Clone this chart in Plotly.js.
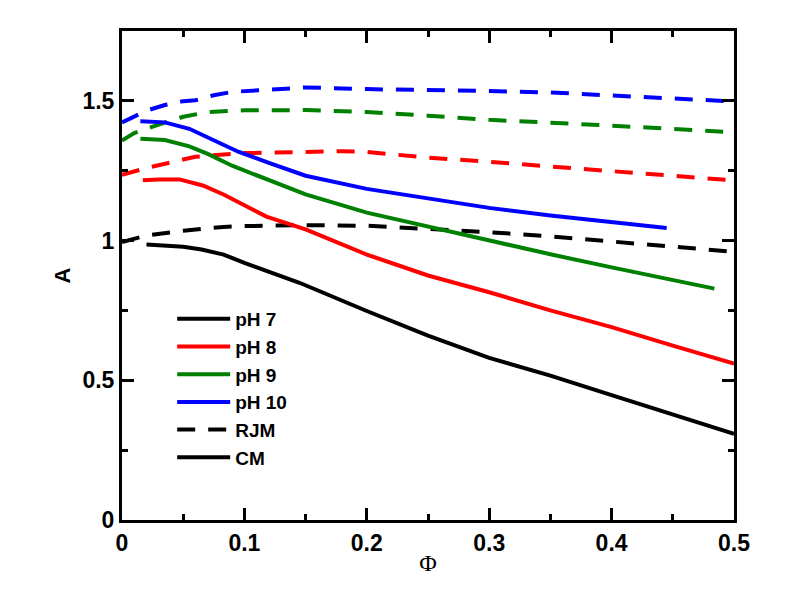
<!DOCTYPE html>
<html>
<head>
<meta charset="utf-8">
<script src="https://cdn.plot.ly/plotly-3.0.1.min.js"></script>
<style>html,body{margin:0;padding:0;background:#fff;}#chart{width:792px;height:612px;}</style>
</head>
<body>
<div id="chart"></div>
<script>
// CM (solid) curves
var phiCM7 = [0.02,0.05,0.065,0.083,0.1,0.145,0.2,0.25,0.3,0.35,0.4,0.45,0.5];
var aCM7   = [0.986,0.978,0.968,0.95,0.92,0.849,0.748,0.66,0.58,0.517,0.447,0.377,0.308];
var phiCM8 = [0.017,0.03,0.047,0.066,0.083,0.1,0.118,0.15,0.186,0.2,0.25,0.3,0.35,0.4,0.45,0.5];
var aCM8   = [1.216,1.219,1.219,1.197,1.165,1.125,1.086,1.04,0.973,0.95,0.875,0.815,0.75,0.69,0.624,0.56];
var phiCM9 = [0.015,0.035,0.055,0.07,0.09,0.12,0.15,0.2,0.25,0.3,0.35,0.4,0.45,0.484];
var aCM9   = [1.364,1.36,1.337,1.31,1.268,1.215,1.165,1.1,1.05,1.0,0.951,0.904,0.859,0.828];
var phiCM10 = [0.015,0.035,0.055,0.075,0.095,0.12,0.15,0.2,0.25,0.3,0.35,0.4,0.445];
var aCM10   = [1.427,1.423,1.40,1.36,1.318,1.278,1.232,1.185,1.152,1.117,1.09,1.066,1.045];

// RJM (dashed) curves
var phiRJM7 = [0,0.02,0.05,0.08,0.1,0.15,0.2,0.25,0.3,0.35,0.4,0.45,0.5];
var aRJM7   = [0.995,1.018,1.035,1.048,1.052,1.055,1.053,1.042,1.03,1.015,0.997,0.978,0.96];
var phiRJM8 = [0,0.02,0.04,0.06,0.08,0.1,0.15,0.18,0.2,0.25,0.3,0.35,0.4,0.45,0.5];
var aRJM8   = [1.235,1.26,1.28,1.30,1.307,1.313,1.317,1.32,1.317,1.297,1.282,1.265,1.248,1.232,1.215];
var phiRJM9 = [0,0.01,0.03,0.05,0.07,0.1,0.15,0.2,0.25,0.3,0.35,0.4,0.45,0.5];
var aRJM9   = [1.358,1.385,1.415,1.443,1.46,1.466,1.467,1.46,1.447,1.432,1.422,1.412,1.40,1.387];
var phiRJM10 = [0,0.01,0.02,0.035,0.05,0.06,0.075,0.09,0.11,0.13,0.15,0.2,0.25,0.3,0.35,0.4,0.45,0.5];
var aRJM10   = [1.423,1.443,1.465,1.485,1.499,1.502,1.52,1.532,1.538,1.545,1.548,1.542,1.54,1.535,1.53,1.52,1.51,1.498];

var phLabels = ["pH 7","pH 8","pH 9","pH 10"];
var colors = ["#000000","#ff0000","#008000","#0000ff"];
var modelLabels = ["RJM","CM"];

var cmX = [phiCM7, phiCM8, phiCM9, phiCM10];
var cmY = [aCM7, aCM8, aCM9, aCM10];
var rjX = [phiRJM7, phiRJM8, phiRJM9, phiRJM10];
var rjY = [aRJM7, aRJM8, aRJM9, aRJM10];

var LW = 4;
var DASH = "18px,13px";
var traces = [];
for (var i = 0; i < 4; i++) {
  traces.push({x: rjX[i], y: rjY[i], type: "scatter", mode: "lines", showlegend: false,
    line: {color: colors[i], width: LW, dash: DASH}, hoverinfo: "skip"});
}
for (var i = 0; i < 4; i++) {
  traces.push({x: cmX[i], y: cmY[i], type: "scatter", mode: "lines", name: phLabels[i],
    legendrank: i + 1, line: {color: colors[i], width: LW}});
}
traces.push({x: [null], y: [null], type: "scatter", mode: "lines", name: modelLabels[0],
  legendrank: 5, line: {color: "#000", width: LW, dash: DASH}});
traces.push({x: [null], y: [null], type: "scatter", mode: "lines", name: modelLabels[1],
  legendrank: 6, line: {color: "#000", width: LW}});

var tickFont = {family: "Liberation Sans, Arial, sans-serif", size: 23, weight: "bold", color: "#000"};

var layout = {
  width: 792, height: 612,
  paper_bgcolor: "#fff", plot_bgcolor: "#fff",
  margin: {l: 122, r: 58, t: 31, b: 92, pad: 0},
  showlegend: true,
  legend: {
    x: 0.082, y: 0.45, xanchor: "left", yanchor: "top",
    bgcolor: "rgba(0,0,0,0)", borderwidth: 0,
    itemwidth: 53, tracegroupgap: 0,
    font: {family: "Liberation Sans, Arial, sans-serif", size: 19, weight: "bold", color: "#000"}
  },
  xaxis: {
    range: [0, 0.5], dtick: 0.1, tick0: 0,
    showgrid: false, zeroline: false,
    showline: true, linewidth: 3, linecolor: "#000", mirror: "allticks",
    ticks: "inside", ticklen: 12, tickwidth: 3, tickcolor: "#000",
    minor: {dtick: 0.05, ticks: "inside", ticklen: 6, tickwidth: 3, tickcolor: "#000", showgrid: false},
    tickfont: tickFont,
    title: {text: "Φ", font: {family: "Liberation Serif, Times New Roman, serif", size: 24, color: "#000"}, standoff: 0}
  },
  yaxis: {
    range: [0, 1.75], dtick: 0.5, tick0: 0,
    showgrid: false, zeroline: false,
    showline: true, linewidth: 3, linecolor: "#000", mirror: "allticks",
    ticks: "inside", ticklen: 12, tickwidth: 3, tickcolor: "#000",
    minor: {dtick: 0.25, ticks: "inside", ticklen: 6, tickwidth: 3, tickcolor: "#000", showgrid: false},
    tickfont: tickFont,
    title: {text: "A", font: {family: "Liberation Sans, Arial, sans-serif", size: 22, weight: "bold", color: "#000"}, standoff: 6}
  }
};

Plotly.newPlot("chart", traces, layout, {staticPlot: true, displayModeBar: false});
</script>
</body>
</html>
